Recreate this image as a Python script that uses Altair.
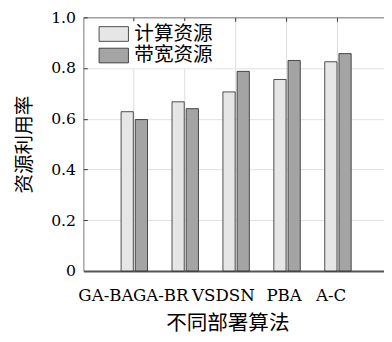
import altair as alt
import pandas as pd

algorithms = ["GA-BA", "GA-BR", "VSDSN", "PBA", "A-C"]
series = ["计算资源", "带宽资源"]
compute_util = [0.628, 0.667, 0.706, 0.755, 0.825]
bandwidth_util = [0.597, 0.640, 0.787, 0.830, 0.857]
y_ticks = [0, 0.2, 0.4, 0.6, 0.8, 1.0]
label_shift = [-29, -25, -13, -3, -7]

rows = []
for i, a in enumerate(algorithms):
    rows.append({"algo": a, "series": series[0], "value": compute_util[i]})
    rows.append({"algo": a, "series": series[1], "value": bandwidth_util[i]})
df = pd.DataFrame(rows)

serif = "DejaVu Serif"
cjk = "Noto Sans CJK SC"
W, H = 307, 259

x_scale = alt.Scale(domain=algorithms, paddingInner=0, paddingOuter=0.452, align=0.553)
xo_scale = alt.Scale(domain=series, paddingInner=0.138, paddingOuter=0.862)
y_scale = alt.Scale(domain=[0, 1], nice=False)
fill_scale = alt.Scale(domain=series, range=["#e6e6e6", "#a4a4a4"])

offset_cond = {
    "condition": [
        {"test": f"datum.value == '{a}'", "value": s}
        for a, s in zip(algorithms, label_shift)
    ],
    "value": 0,
}

bars = alt.Chart(df).mark_bar(stroke="#222", strokeWidth=0.8).encode(
    x=alt.X(
        "algo:N",
        scale=x_scale,
        sort=algorithms,
        axis=alt.Axis(
            orient="bottom",
            title="不同部署算法",
            titleFont=cjk,
            titleFontSize=21,
            titleFontWeight="normal",
            titleColor="black",
            titlePadding=10,
            titleX=147,
            labelFont=serif,
            labelFontSize=17,
            labelColor="black",
            labelPadding=17,
            labelAngle=0,
            labelOverlap=False,
            labelOffset=offset_cond,
            ticks=False,
            domainColor="#555",
            domainWidth=2,
            grid=True,
            gridColor="#dddddd",
            bandPosition=0.5,
        ),
    ),
    xOffset=alt.XOffset("series:N", scale=xo_scale, sort=series),
    y=alt.Y(
        "value:Q",
        scale=y_scale,
        axis=alt.Axis(
            orient="left",
            values=y_ticks,
            title="资源利用率",
            titleFont=cjk,
            titleFontSize=20,
            titleFontWeight="normal",
            titleColor="black",
            titlePadding=17,
            labelExpr="datum.value == 0 ? '0' : format(datum.value, '.1f')",
            labelFont=serif,
            labelFontSize=16,
            labelColor="black",
            labelPadding=8,
            ticks=False,
            domainColor="#777",
            grid=True,
            gridColor="#e0e0e0",
        ),
    ),
    fill=alt.Fill(
        "series:N",
        scale=fill_scale,
        sort=series,
        legend=alt.Legend(
            orient="none",
            legendX=18,
            legendY=4,
            title=None,
            symbolType="M-2,-1H2V1H-2Z",
            symbolSize=225,
            symbolStrokeColor="#222",
            symbolStrokeWidth=0.8,
            symbolOpacity=1,
            labelFont=cjk,
            labelFontSize=20,
            labelColor="black",
            labelOffset=11,
            fillColor="white",
            padding=3,
            rowPadding=2,
            direction="vertical",
        ),
    ),
)

frame = alt.Chart(df).mark_bar(opacity=0).encode(
    x=alt.X(
        "algo:N",
        scale=x_scale,
        sort=algorithms,
        axis=alt.Axis(
            orient="bottom",
            offset=-H,
            labels=False,
            title=None,
            ticks=True,
            tickSize=4,
            tickColor="#333",
            domainColor="#777",
            grid=False,
            bandPosition=0.5,
        ),
    ),
    xOffset=alt.XOffset("series:N", scale=xo_scale, sort=series),
    y=alt.Y(
        "value:Q",
        scale=y_scale,
        axis=alt.Axis(
            orient="right",
            offset=-W,
            values=y_ticks[1:],
            labels=False,
            title=None,
            ticks=True,
            tickSize=4,
            tickColor="#333",
            domain=False,
            grid=False,
        ),
    ),
)

chart = (
    alt.layer(bars, frame)
    .resolve_axis(x="independent", y="independent")
    .properties(
        width=W,
        height=H,
        padding={"left": 77, "top": 6, "right": 0, "bottom": 69},
        autosize=alt.AutoSizeParams(type="none"),
        background="white",
    )
    .configure_view(strokeWidth=0)
)

chart.save("out.html", embed_options={"renderer": "svg", "actions": False})
